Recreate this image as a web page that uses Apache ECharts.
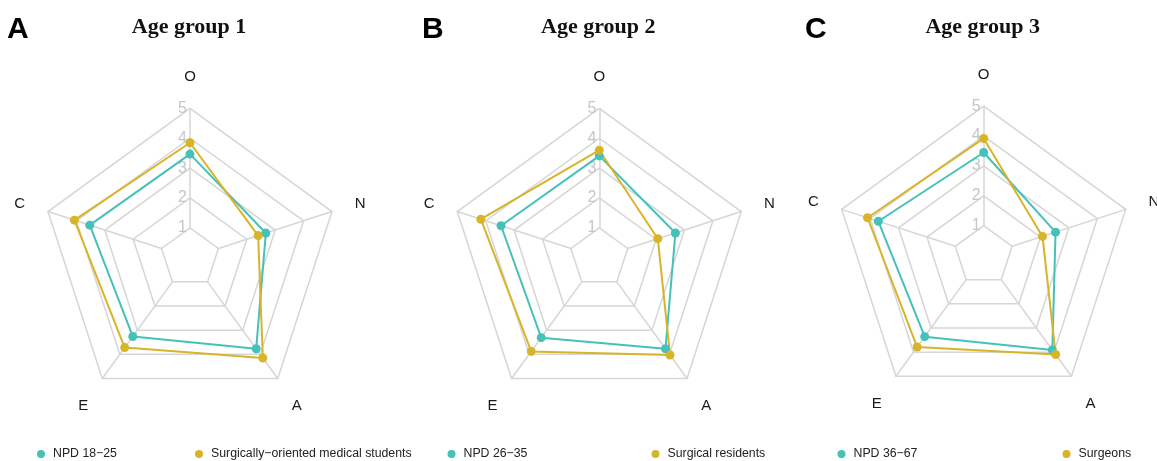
<!DOCTYPE html>
<html>
<head>
<meta charset="utf-8">
<script src="https://cdn.jsdelivr.net/npm/echarts@6/dist/echarts.min.js"></script>
<style>
  html, body { margin: 0; padding: 0; background: #fff; }
  #chart { width: 1157px; height: 461px; }
</style>
</head>
<body>
<div id="chart"></div>
<script>
// Big Five traits, listed counter-clockwise from the top axis
const traits = ['O', 'C', 'E', 'A', 'N'];
const lowerTraits = ['E', 'A'];
const scaleMin = 1;
const scaleMax = 5;

const panelLetters = ['A', 'B', 'C'];
const panelTitles = ['Age group 1', 'Age group 2', 'Age group 3'];

// Normative data (NPD) per age band
const npdNames = ['NPD 18\u221225', 'NPD 26\u221235', 'NPD 36\u221267'];
const npd1 = [3.47, 3.53, 3.26, 3.77, 2.67];
const npd2 = [3.41, 3.46, 3.31, 3.77, 2.68];
const npd3 = [3.45, 3.71, 3.36, 3.91, 2.53];

// Surgical cohorts per age band
const surgNames = ['Surgically\u2212oriented medical students', 'Surgical residents', 'Surgeons'];
const surg1 = [3.85, 4.07, 3.72, 4.15, 2.40];
const surg2 = [3.60, 4.17, 3.88, 4.03, 2.06];
const surg3 = [3.92, 4.09, 3.79, 4.10, 2.07];

const npdValues = [npd1, npd2, npd3];
const surgValues = [surg1, surg2, surg3];

const tealColor = '#45c1b9';
const goldColor = '#d8b42a';
const gridColor = '#d6d6d6';

const centers = [[190, 257.7], [599.3, 257.7], [983.7, 255.5]];
const outerR = 149.3;
const innerR = outerR / 5;

const legendLeft = [[37, 195], [447.5, 651.5], [837.5, 1062.5]];

const radars = [];
const series = [];
const titles = [];
const legends = [];

for (let p = 0; p < 3; p++) {
  radars.push({
    center: centers[p],
    radius: [innerR, outerR],
    startAngle: 90,
    shape: 'polygon',
    splitNumber: 4,
    indicator: traits.map((t, i) => {
      const ind = { name: t, min: scaleMin, max: scaleMax };
      if (i === 0) {
        ind.axisLabel = {
          show: true,
          color: '#c6c6c6',
          fontSize: 16,
          fontFamily: 'Liberation Sans, Arial, sans-serif',
          margin: 3,
          showMinLabel: true,
          showMaxLabel: true
        };
      }
      return ind;
    }),
    nameGap: 24,
    axisName: {
      color: '#1a1a1a',
      fontSize: 15,
      fontFamily: 'Liberation Sans, Arial, sans-serif',
      formatter: function (name) {
        return lowerTraits.indexOf(name) >= 0 ? '{low|' + name + '}' : name;
      },
      rich: {
        low: {
          color: '#1a1a1a',
          fontSize: 15,
          fontFamily: 'Liberation Sans, Arial, sans-serif',
          padding: [16, 0, 0, 0]
        }
      }
    },
    axisLine: { lineStyle: { color: gridColor, width: 1.5 } },
    splitLine: { lineStyle: { color: gridColor, width: 1.5 } },
    splitArea: { show: false },
    axisTick: { show: false },
    axisLabel: { show: false }
  });

  series.push({
    type: 'radar',
    name: npdNames[p],
    radarIndex: p,
    symbol: 'circle',
    symbolSize: 9,
    color: tealColor,
    lineStyle: { color: tealColor, width: 2 },
    itemStyle: { color: tealColor },
    data: [{ name: npdNames[p], value: npdValues[p] }]
  });
  series.push({
    type: 'radar',
    name: surgNames[p],
    radarIndex: p,
    symbol: 'circle',
    symbolSize: 9,
    color: goldColor,
    lineStyle: { color: goldColor, width: 2 },
    itemStyle: { color: goldColor },
    data: [{ name: surgNames[p], value: surgValues[p] }]
  });

  titles.push({
    text: panelTitles[p],
    left: centers[p][0] - 1,
    top: 16,
    padding: 0,
    textAlign: 'center',
    textStyle: {
      fontFamily: 'Liberation Serif, Times New Roman, serif',
      fontWeight: 'bold',
      fontSize: 22,
      color: '#111'
    }
  });

  [npdNames[p], surgNames[p]].forEach((nm, k) => {
    legends.push({
      data: [nm],
      left: legendLeft[p][k],
      top: 448,
      padding: 0,
      itemWidth: 10,
      itemHeight: 8,
      icon: 'circle',
      selectedMode: false,
      textStyle: {
        fontSize: 12.3,
        color: '#222',
        fontFamily: 'Liberation Sans, Arial, sans-serif',
        padding: [0, 0, 0, 2]
      }
    });
  });
}

const letterLeft = [7, 422, 805];
panelLetters.forEach((l, i) => {
  titles.push({
    text: l,
    left: letterLeft[i],
    top: 15,
    padding: 0,
    textStyle: {
      fontFamily: 'Liberation Sans, Arial, sans-serif',
      fontWeight: 'bold',
      fontSize: 30,
      color: '#000'
    }
  });
});

const chart = echarts.init(document.getElementById('chart'), null, { renderer: 'canvas' });
chart.setOption({
  backgroundColor: '#fff',
  animation: false,
  title: titles,
  legend: legends,
  radar: radars,
  series: series
});
</script>
</body>
</html>
